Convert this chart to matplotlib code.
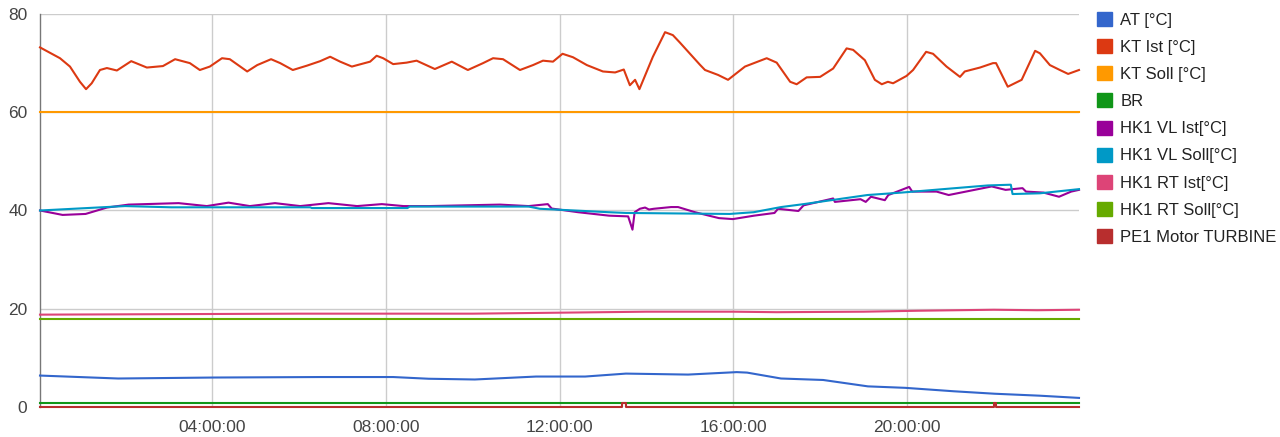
import matplotlib
matplotlib.use("Agg")
import matplotlib.pyplot as plt
from matplotlib.patches import Patch
from matplotlib.ticker import FixedLocator, FuncFormatter

plt.rcParams['font.family'] = ['Liberation Sans', 'DejaVu Sans']

# ---------------- data (time in hours of day) ----------------
labels = ["AT [°C]", "KT Ist [°C]", "KT Soll [°C]", "BR", "HK1 VL Ist[°C]",
          "HK1 VL Soll[°C]", "HK1 RT Ist[°C]", "HK1 RT Soll[°C]", "PE1 Motor TURBINE"]
colors = ["#3366cc", "#dc3912", "#ff9900", "#109618", "#990099",
          "#0099c6", "#dd4477", "#66aa00", "#b82e2e"]

at_t = [0.04, 1.84, 4.05, 6.51, 8.17, 8.99, 10.05, 11.46, 12.59, 13.53, 14.96,
        16.08, 16.32, 17.10, 18.07, 19.10, 19.96, 21.08, 22.02, 23.06, 23.96]
at_v = [6.4, 5.8, 6.0, 6.1, 6.1, 5.75, 5.6, 6.2, 6.2, 6.8, 6.6,
        7.1, 7.0, 5.8, 5.5, 4.2, 3.9, 3.2, 2.7, 2.3, 1.85]

kt_ist_t = [0.04, 0.50, 0.73, 0.96, 1.10, 1.23, 1.42, 1.58, 1.81, 2.14, 2.50, 2.87,
            3.15, 3.49, 3.72, 3.95, 4.23, 4.41, 4.81, 5.04, 5.36, 5.57, 5.86, 6.19,
            6.49, 6.72, 6.95, 7.22, 7.64, 7.79, 7.94, 8.17, 8.48, 8.71, 9.13, 9.52,
            9.89, 10.24, 10.47, 10.70, 11.09, 11.39, 11.62, 11.85, 12.07, 12.31,
            12.63, 13.00, 13.28, 13.48, 13.62, 13.74, 13.84, 14.15, 14.43, 14.61,
            14.77, 15.23, 15.35, 15.65, 15.88, 16.27, 16.77, 17.00, 17.31, 17.46,
            17.69, 18.00, 18.30, 18.61, 18.76, 19.03, 19.26, 19.42, 19.56, 19.68,
            19.99, 20.14, 20.44, 20.60, 20.91, 21.22, 21.33, 21.68, 21.98, 22.05,
            22.32, 22.64, 22.95, 23.06, 23.29, 23.52, 23.71, 23.96]
kt_ist_v = [73.2, 71.0, 69.3, 66.2, 64.7, 65.9, 68.6, 69.0, 68.5, 70.4, 69.1, 69.4,
            70.8, 70.0, 68.6, 69.3, 71.0, 70.8, 68.3, 69.6, 70.8, 70.0, 68.6, 69.5,
            70.4, 71.3, 70.3, 69.3, 70.3, 71.5, 71.0, 69.8, 70.1, 70.5, 68.8, 70.3,
            68.6, 70.0, 71.0, 70.8, 68.6, 69.6, 70.5, 70.3, 71.9, 71.2,
            69.6, 68.3, 68.1, 68.7, 65.5, 66.6, 64.7, 71.3, 76.3, 75.7,
            74.2, 69.7, 68.6, 67.6, 66.6, 69.3, 71.0, 70.1, 66.2, 65.7,
            67.1, 67.2, 68.9, 73.0, 72.7, 70.6, 66.6, 65.7, 66.2, 65.9,
            67.4, 68.6, 72.3, 71.9, 69.3, 67.2, 68.3, 69.1, 70.0, 70.0,
            65.2, 66.6, 72.5, 72.0, 69.6, 68.6, 67.8, 68.6]

kt_soll_t = [0.04, 23.96]
kt_soll_v = [60.0, 60.0]

br_t = [0.04, 23.96]
br_v = [0.8, 0.8]

vl_ist_t = [0.04, 0.56, 1.09, 1.58, 2.08, 3.23, 3.88, 4.38, 4.87, 5.45, 6.03, 6.68,
            7.34, 7.91, 8.41, 8.99, 10.63, 11.29, 11.73, 11.82, 12.43, 13.14, 13.58,
            13.68, 13.73, 13.85, 13.97, 14.06, 14.17, 14.57, 14.73, 15.12, 15.67,
            15.99, 16.48, 16.95, 17.03, 17.50, 17.62, 18.30, 18.34, 18.93, 19.05,
            19.17, 19.49, 19.57, 20.05, 20.12, 20.68, 20.96, 21.95, 22.27, 22.66,
            22.74, 23.14, 23.50, 23.78, 23.96]
vl_ist_v = [40.0, 39.1, 39.3, 40.6, 41.2, 41.5, 40.9, 41.6, 40.9, 41.5, 40.9, 41.5,
            40.9, 41.3, 40.9, 40.9, 41.2, 40.9, 41.3, 40.4, 39.65, 38.95, 38.8,
            36.1, 39.65, 40.35, 40.6, 40.2, 40.35, 40.7, 40.7, 39.65, 38.45,
            38.25, 38.95, 39.5, 40.35, 39.9, 41.05, 42.45, 41.75, 42.3, 41.75,
            42.8, 42.1, 43.15, 44.8, 43.85, 43.85, 43.15, 44.9, 44.2, 44.55,
            43.85, 43.65, 42.8, 43.85, 44.2]

vl_soll_t = [0.04, 2.0, 3.06, 6.26, 6.30, 8.5, 8.55, 11.29, 11.55, 13.14, 13.53,
             15.92, 16.47, 17.10, 17.58, 19.09, 19.88, 21.86, 22.39, 22.43, 23.06, 23.96]
vl_soll_v = [40.0, 40.9, 40.65, 40.65, 40.5, 40.5, 40.8, 40.8, 40.35, 39.65, 39.5,
             39.3, 39.65, 40.7, 41.25, 43.15, 43.65, 45.1, 45.25, 43.35, 43.5, 44.35]

rt_ist_t = [0.04, 3.0, 6.0, 10.0, 12.0, 14.0, 16.0, 17.0, 19.0, 20.3, 22.0, 23.0, 23.96]
rt_ist_v = [18.8, 18.9, 19.0, 19.0, 19.2, 19.4, 19.4, 19.3, 19.4, 19.6, 19.8, 19.7, 19.8]

rt_soll_t = [0.04, 23.96]
rt_soll_v = [18.0, 18.0]

pe1_t = [0.04, 13.45, 13.45, 13.53, 13.53, 22.00, 22.00, 22.04, 22.04, 23.96]
pe1_v = [0, 0, 0.8, 0.8, 0, 0, 0.8, 0.8, 0, 0]

x_ticks = [4, 8, 12, 16, 20]
y_ticks = [0, 20, 40, 60, 80]

series = [(at_t, at_v), (kt_ist_t, kt_ist_v), (kt_soll_t, kt_soll_v), (br_t, br_v),
          (vl_ist_t, vl_ist_v), (vl_soll_t, vl_soll_v), (rt_ist_t, rt_ist_v),
          (rt_soll_t, rt_soll_v), (pe1_t, pe1_v)]

# ---------------- figure ----------------
fig = plt.figure(figsize=(12.8, 4.37), dpi=100)
ax = fig.add_axes([40 / 1280, 1 - 407 / 437, (1079 - 40) / 1280, (407 - 14) / 437])

for (t, v), c in zip(series, colors):
    ax.plot(t, v, color=c, lw=1.5, solid_joinstyle='round', zorder=3, clip_on=False)

ax.set_xlim(0.04, 23.96)
ax.set_ylim(0, 80)
ax.xaxis.set_major_locator(FixedLocator(x_ticks))
ax.xaxis.set_major_formatter(FuncFormatter(lambda x, p: f"{int(round(x)):02d}:00:00"))
ax.yaxis.set_major_locator(FixedLocator(y_ticks))
ax.grid(True, color="#cccccc", lw=1.0, zorder=0)
for s in ["top", "right", "bottom"]:
    ax.spines[s].set_visible(False)
ax.spines["left"].set_color("#777777")
ax.spines["left"].set_linewidth(1.0)
ax.tick_params(axis="both", length=0, labelsize=12.5, labelcolor="#444444")
ax.tick_params(axis="x", pad=9)
ax.tick_params(axis="y", pad=9)

handles = [Patch(facecolor=c, edgecolor=c) for c in colors]
fig.legend(handles, labels, loc="upper left", bbox_to_anchor=(1097 / 1280, 1 - 12 / 437),
           frameon=False, fontsize=12, handlelength=0.9, handleheight=0.9,
           handletextpad=0.5, labelspacing=0.69, borderpad=0, borderaxespad=0,
           labelcolor="#222222")

fig.savefig("out.png", dpi=100)
